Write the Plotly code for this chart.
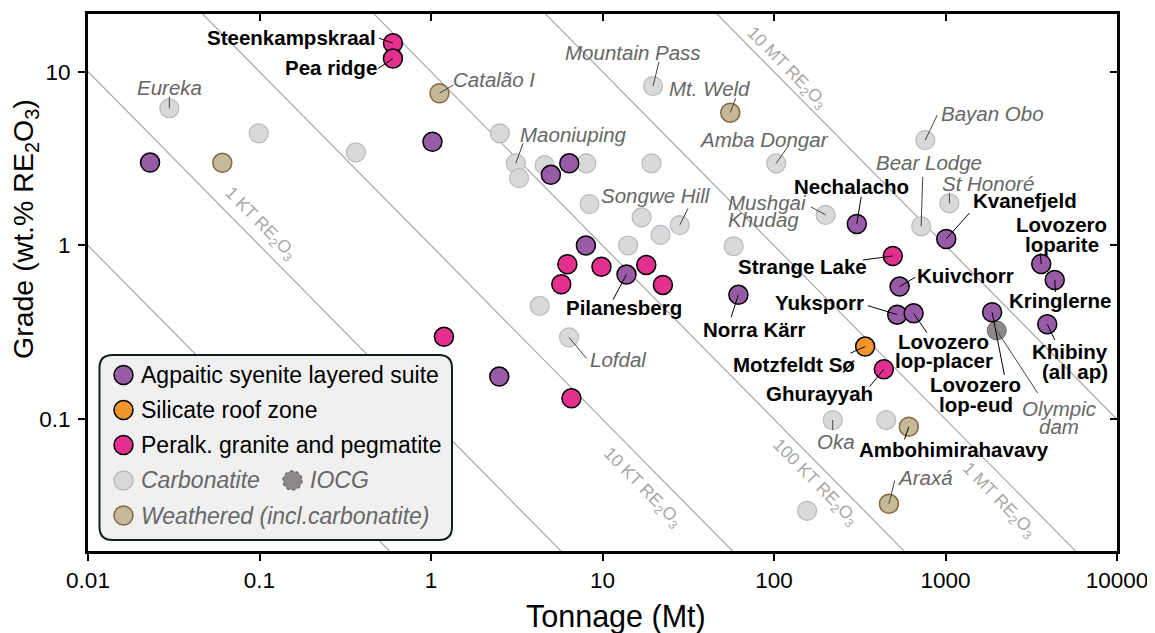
import math
import plotly.graph_objects as go

# ---------------- data (tonnage in Mt, grade in wt.% RE2O3) ----------------
agp_names = ["", "", "", "", "", "Pilanesberg", "", "Norra Kärr", "Nechalacho", "Kvanefjeld",
             "Kuivchorr", "Yuksporr", "Lovozero lop-placer", "Lovozero lop-eud",
             "Lovozero loparite", "Kringlerne", "Khibiny (all ap)"]
agp_tonnage = [0.023, 1.02, 5.0, 6.4, 8.0, 13.8, 2.5, 62, 304, 1010, 540, 523, 652, 1870, 3615, 4335, 3920]
agp_grade = [3.0, 3.95, 2.55, 2.97, 1.0, 0.68, 0.176, 0.52, 1.33, 1.09, 0.58, 0.40, 0.407, 0.413, 0.783, 0.633, 0.352]

roof_names = ["Motzfeldt Sø"]
roof_tonnage = [340]
roof_grade = [0.262]

gran_names = ["Steenkampskraal", "Pea ridge", "", "", "", "", "", "", "", "Strange Lake", "Ghurayyah"]
gran_tonnage = [0.60, 0.60, 1.19, 6.59, 6.24, 9.86, 5.75, 18.0, 22.5, 493, 437]
gran_grade = [14.6, 11.9, 0.298, 0.132, 0.78, 0.755, 0.598, 0.773, 0.593, 0.87, 0.194]

carb_names = ["Eureka", "", "", "", "Maoniuping", "", "", "", "", "Mountain Pass", "Amba Dongar",
              "", "", "Songwe Hill", "", "", "", "", "Lofdal", "Mushgai Khudag", "Bear Lodge",
              "St Honoré", "Bayan Obo", "Oka", "", ""]
carb_tonnage = [0.0298, 0.099, 0.365, 2.52, 3.12, 3.26, 4.6, 8.05, 19.3, 19.7, 103,
                8.4, 16.9, 28.2, 21.8, 14.1, 58.2, 4.3, 6.38, 200, 721,
                1054, 762, 220, 451, 156]
carb_grade = [6.16, 4.42, 3.43, 4.42, 2.97, 2.44, 2.9, 2.97, 2.97, 8.27, 2.97,
              1.73, 1.45, 1.31, 1.15, 1.0, 0.99, 0.449, 0.296, 1.5, 1.29,
              1.75, 4.04, 0.099, 0.099, 0.0297]

iocg_names = ["Olympic dam"]
iocg_tonnage = [1990]
iocg_grade = [0.324]

weath_names = ["", "Catalão I", "Mt. Weld", "Ambohimirahavavy", "Araxá"]
weath_tonnage = [0.0607, 1.12, 55.6, 611, 468]
weath_grade = [2.99, 7.52, 5.81, 0.0906, 0.0326]

# contained RE2O3 (Mt) for the iso-tonnage reference lines
contained_mt = [0.0001, 0.001, 0.01, 0.1, 1, 10]
contained_labels = ["", "1 KT RE<sub>2</sub>O<sub>3</sub>", "10 KT RE<sub>2</sub>O<sub>3</sub>",
                    "100 KT RE<sub>2</sub>O<sub>3</sub>", "1 MT RE<sub>2</sub>O<sub>3</sub>",
                    "10 MT RE<sub>2</sub>O<sub>3</sub>"]

x_ticks = [0.01, 0.1, 1, 10, 100, 1000, 10000]
x_ticktext = ["0.01", "0.1", "1", "10", "100", "1000", "10000"]
y_ticks = [0.1, 1, 10]
y_ticktext = ["0.1", "1", "10"]

legend_items = ["Agpaitic syenite layered suite", "Silicate roof zone", "Peralk. granite and pegmatite",
                "Carbonatite", "IOCG", "Weathered (incl.carbonatite)"]

# ---------------- styles / layout ----------------
OFF = 8  # page body margin in the browser
W, H = 1155 - OFF, 633 - OFF
ML, MT = 88 - OFF, 14 - OFF
PW, PH = 1029, 537
MR, MB = W - ML - PW, H - MT - PH
X_RANGE = [-2, 4]
Y_RANGE = [-1.758, 1.332]
PXD_X = PW / (X_RANGE[1] - X_RANGE[0])   # pixels per decade
PXD_Y = PH / (Y_RANGE[1] - Y_RANGE[0])
FONT = "Liberation Sans"

C_AGP = "#985ca6"
C_ROOF = "#f0952a"
C_GRAN = "#e3308f"
C_CARB = "#d9d9d9"
C_CARB_LINE = "#b9b9c2"
C_IOCG = "#8e8989"
C_IOCG_LINE = "#6d6868"
C_WEATH = "#c4ba98"
C_WEATH_LINE = "#86683e"
C_REF = "#a8a8a8"
C_ITAL = "#676767"

# label placements: text line centres and leader end as pixel offsets from the point
LABELS = {
    "Steenkampskraal": dict(b=True, lines=[("Steenkampskraal", -101, -6)], lead=(-14, -5)),
    "Pea ridge": dict(b=True, lines=[("Pea ridge", -62, 9)], lead=(-15, 10)),
    "Nechalacho": dict(b=True, lines=[("Nechalacho", -5, -37.5)], lead=(4.4, -27.3)),
    "Kvanefjeld": dict(b=True, lines=[("Kvanefjeld", 79, -38)], lead=(23.3, -26)),
    "Lovozero loparite": dict(b=True, lines=[("Lovozero", 20, -39), ("loparite", 21, -19)], lead=(-1, -10.7)),
    "Kringlerne": dict(b=True, lines=[("Kringlerne", 5.4, 20.7)], lead=(0.7, 12)),
    "Khibiny (all ap)": dict(b=True, lines=[("Khibiny", 23, 27.4), ("(all ap)", 27.3, 47.4)], lead=(7.6, 15.7)),
    "Strange Lake": dict(b=True, lines=[("Strange Lake", -90.3, 10.7)], lead=(-30, 4)),
    "Kuivchorr": dict(b=True, lines=[("Kuivchorr", 65.8, -11.2)], lead=(15.7, -9.4)),
    "Yuksporr": dict(b=True, lines=[("Yuksporr", -77.7, -11.7)], lead=(-29.4, -9)),
    "Lovozero lop-placer": dict(b=True, lines=[("Lovozero", 29.7, 28.4), ("lop-placer", 30.7, 47)], lead=(13.3, 19.4)),
    "Lovozero lop-eud": dict(b=True, lines=[("Lovozero", -16.4, 72.7), ("lop-eud", -16.4, 92)], lead=(12.3, 62.7)),
    "Norra Kärr": dict(b=True, lines=[("Norra Kärr", 16.2, 35)], lead=(-7.3, 22.4)),
    "Pilanesberg": dict(b=True, lines=[("Pilanesberg", -2.2, 33.3)], lead=(-13.4, 25)),
    "Motzfeldt Sø": dict(b=True, lines=[("Motzfeldt Sø", -70.7, 18.3)], lead=(-14.7, 6.6)),
    "Ghurayyah": dict(b=True, lines=[("Ghurayyah", -64, 24)], lead=(-14.3, 17.4)),
    "Ambohimirahavavy": dict(b=True, lines=[("Ambohimirahavavy", 45.4, 22.6)], lead=(-4.3, 12.6)),
    "Eureka": dict(b=False, lines=[("Eureka", -0.3, -20.3)], lead=(0, -11.6)),
    "Catalão I": dict(b=False, lines=[("Catalão I", 55, -13.8)], lead=(14, -8.3)),
    "Mountain Pass": dict(b=False, lines=[("Mountain Pass", -20, -33.7)], lead=(6, -24.3)),
    "Mt. Weld": dict(b=False, lines=[("Mt. Weld", -20.4, -24.4)], lead=(5.3, -14.4)),
    "Maoniuping": dict(b=False, lines=[("Maoniuping", 58.2, -28.8)], lead=(7.3, -20)),
    "Amba Dongar": dict(b=False, lines=[("Amba Dongar", -12.5, -24)], lead=(11.6, -16.6)),
    "Songwe Hill": dict(b=False, lines=[("Songwe Hill", -23.3, -30)], lead=(8.3, -16.7)),
    "Mushgai Khudag": dict(b=False, lines=[("Mushgai", -58.2, -12.5), ("Khudag", -61.7, 5)], lead=(-14.7, -8)),
    "Bayan Obo": dict(b=False, lines=[("Bayan Obo", 66.8, -26.7)], lead=(12, -25)),
    "Bear Lodge": dict(b=False, lines=[("Bear Lodge", 8.1, -63.7)], lead=(1.6, -49.3)),
    "St Honoré": dict(b=False, lines=[("St Honoré", 38.3, -20)], lead=(0, -10)),
    "Lofdal": dict(b=False, lines=[("Lofdal", 49, 22)], lead=(17.4, 21)),
    "Olympic dam": dict(b=False, lines=[("Olympic", 62.4, 77.6), ("dam", 62.7, 96)], lead=(41, 62.6)),
    "Oka": dict(b=False, lines=[("Oka", 3, 21.7)], lead=(0, 10)),
    "Araxá": dict(b=False, lines=[("Araxá", 36, -26.7)], lead=(5.7, -23.3)),
}

# contour label centres (screen pixels)
REF_LABEL_POS = [None, (260, 223), (642, 487), (815, 482), (999, 500), (787, 68)]


def pxx(px):
    """screen pixel x -> paper fraction"""
    return (px - OFF - ML) / PW


def pxy(py):
    """screen pixel y -> paper fraction"""
    return (MT + PH - (py - OFF)) / PH


fig = go.Figure()

# iso-contained-RE2O3 reference lines
for c in contained_mt:
    tx = [1e-3, 1e5]
    fig.add_trace(go.Scatter(x=tx, y=[100 * c / t for t in tx], mode="lines",
                             line=dict(color=C_REF, width=1.2), hoverinfo="skip", showlegend=False))

groups = [
    (carb_names, carb_tonnage, carb_grade, C_CARB, C_CARB_LINE, 1.2),
    (weath_names, weath_tonnage, weath_grade, C_WEATH, C_WEATH_LINE, 1.5),
    (iocg_names, iocg_tonnage, iocg_grade, C_IOCG, C_IOCG_LINE, 1.0),
    (agp_names, agp_tonnage, agp_grade, C_AGP, "#000000", 1.5),
    (roof_names, roof_tonnage, roof_grade, C_ROOF, "#000000", 1.5),
    (gran_names, gran_tonnage, gran_grade, C_GRAN, "#000000", 1.5),
]
for names, t, g, fc, lc, lw in groups:
    fig.add_trace(go.Scatter(x=t, y=g, mode="markers", text=names,
                             marker=dict(size=19, color=fc, line=dict(color=lc, width=lw)),
                             showlegend=False, cliponaxis=False))

# dummy trace for mirrored inside ticks
fig.add_trace(go.Scatter(x=[None], y=[None], xaxis="x2", yaxis="y2", showlegend=False, hoverinfo="skip"))

shapes = []
annotations = []

# point labels + leader lines
for names, t, g, fc, lc, lw in groups:
    for n, tv, gv in zip(names, t, g):
        if not n or n not in LABELS:
            continue
        spec = LABELS[n]
        lx, ly = spec["lead"]
        shapes.append(dict(type="line", xref="x", yref="y",
                           x0=tv, y0=gv,
                           x1=tv * 10 ** (lx / PXD_X), y1=gv * 10 ** (-ly / PXD_Y),
                           line=dict(color="#000000" if spec["b"] else "#444444", width=1),
                           layer="above"))
        for txt, dx, dy in spec["lines"]:
            annotations.append(dict(
                x=math.log10(tv), y=math.log10(gv), xref="x", yref="y", text=txt, showarrow=False,
                xshift=dx, yshift=-dy, xanchor="center", yanchor="middle",
                font=dict(family=FONT, size=20.5, color="#000000" if spec["b"] else C_ITAL,
                          weight="bold" if spec["b"] else "normal",
                          style="normal" if spec["b"] else "italic")))

# reference line labels
for lab, pos in zip(contained_labels, REF_LABEL_POS):
    if not lab:
        continue
    annotations.append(dict(x=pxx(pos[0]), y=pxy(pos[1]), xref="paper", yref="paper", text=lab,
                            showarrow=False, textangle=45.4, xanchor="center", yanchor="middle",
                            font=dict(family=FONT, size=17.5, color=C_REF)))

# axis titles
annotations.append(dict(x=pxx(616), y=pxy(616), xref="paper", yref="paper", text="Tonnage (Mt)",
                        showarrow=False, xanchor="center", yanchor="middle",
                        font=dict(family=FONT, size=30.5, color="#000000")))
annotations.append(dict(x=pxx(25), y=pxy(229), xref="paper", yref="paper",
                        text="Grade (wt.% RE<sub>2</sub>O<sub>3</sub>)", textangle=-90,
                        showarrow=False, xanchor="center", yanchor="middle",
                        font=dict(family=FONT, size=28.5, color="#000000")))

# legend box (rounded)
bx0, by0, bx1, by1, r = 99.5, 355, 452, 540, 13


def P(px, py):
    return f"{pxx(px):.6f},{pxy(py):.6f}"


path = (f"M {P(bx0 + r, by0)} L {P(bx1 - r, by0)} Q {P(bx1, by0)} {P(bx1, by0 + r)} "
        f"L {P(bx1, by1 - r)} Q {P(bx1, by1)} {P(bx1 - r, by1)} L {P(bx0 + r, by1)} "
        f"Q {P(bx0, by1)} {P(bx0, by1 - r)} L {P(bx0, by0 + r)} Q {P(bx0, by0)} {P(bx0 + r, by0)} Z")
shapes.append(dict(type="path", xref="paper", yref="paper", path=path, fillcolor="#f0f0f0",
                   line=dict(color="#142014", width=2), layer="above"))

leg_style = [
    (C_AGP, "#000000", "solid", 123.5, 375, "#000000", "normal"),
    (C_ROOF, "#000000", "solid", 123.5, 410, "#000000", "normal"),
    (C_GRAN, "#000000", "solid", 123.5, 445, "#000000", "normal"),
    (C_CARB, C_CARB_LINE, "solid", 123.5, 480.5, C_ITAL, "italic"),
    (C_IOCG, C_IOCG_LINE, "dot", 292.5, 480.5, C_ITAL, "italic"),
    (C_WEATH, C_WEATH_LINE, "solid", 123.5, 515.5, C_ITAL, "italic"),
]
for name, (fc, lc, dash, sx, sy, tc, st) in zip(legend_items, leg_style):
    shapes.append(dict(type="circle", xref="paper", yref="paper", xsizemode="pixel", ysizemode="pixel",
                       xanchor=pxx(sx), yanchor=pxy(sy), x0=-9.5, x1=9.5, y0=-9.5, y1=9.5,
                       fillcolor=fc, line=dict(color=lc, width=1.5, dash=dash), layer="above"))
    annotations.append(dict(x=pxx(sx + 15.5), y=pxy(sy), xref="paper", yref="paper", text=name,
                            showarrow=False, xanchor="left", yanchor="middle",
                            font=dict(family=FONT, size=23, color=tc, style=st)))

axis_common = dict(type="log", showgrid=False, zeroline=False, ticklen=7, tickwidth=2,
                   tickcolor="#000000")
fig.update_layout(
    width=W, height=H,
    margin=dict(l=ML, r=MR, t=MT, b=MB, autoexpand=False),
    paper_bgcolor="#ffffff", plot_bgcolor="#ffffff",
    font=dict(family=FONT, color="#000000"),
    showlegend=False,
    xaxis=dict(**axis_common, range=X_RANGE, tickmode="array", tickvals=x_ticks, ticktext=x_ticktext,
               ticks="outside", showline=True, linewidth=3, linecolor="#000000", mirror=True,
               tickfont=dict(family=FONT, size=22.5, color="#000000"), automargin=False),
    yaxis=dict(**axis_common, range=Y_RANGE, tickmode="array", tickvals=y_ticks, ticktext=y_ticktext,
               ticks="outside", showline=True, linewidth=3, linecolor="#000000", mirror=True,
               ticklabelstandoff=3,
               tickfont=dict(family=FONT, size=22.5, color="#000000"), automargin=False),
    xaxis2=dict(**axis_common, range=X_RANGE, overlaying="x", side="top", tickmode="array",
                tickvals=x_ticks, ticks="inside", showticklabels=False, showline=False, anchor="y2"),
    yaxis2=dict(**axis_common, range=Y_RANGE, overlaying="y", side="right", tickmode="array",
                tickvals=y_ticks, ticks="inside", showticklabels=False, showline=False, anchor="x2"),
    shapes=shapes,
    annotations=annotations,
)

fig.write_html("out.html")
